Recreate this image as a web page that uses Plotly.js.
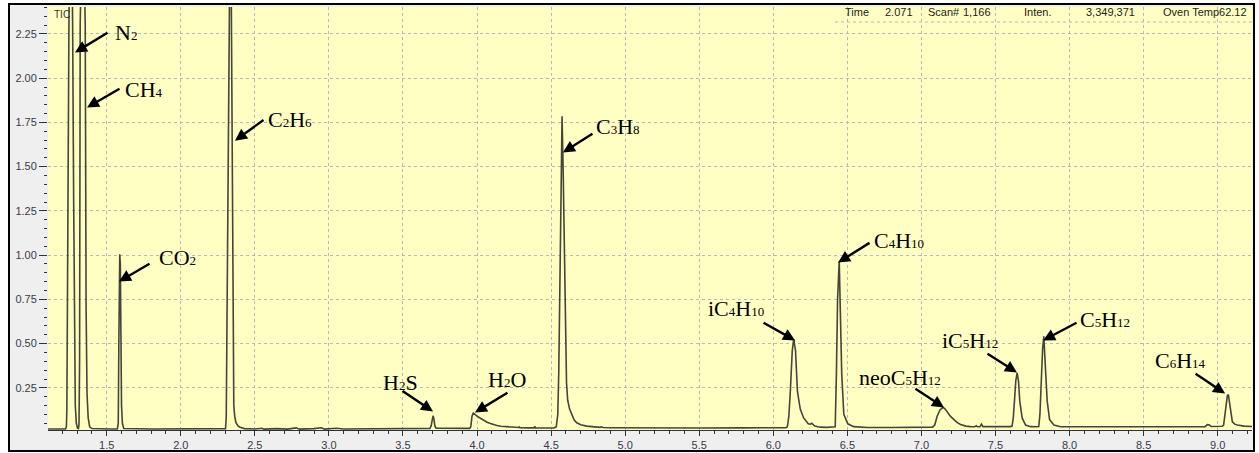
<!DOCTYPE html>
<html>
<head>
<meta charset="utf-8">
<script src="https://cdn.plot.ly/plotly-3.0.1.min.js"></script>
<style>html,body{margin:0;padding:0;background:#fff;}#chart{width:1259px;height:453px;}</style>
</head>
<body>
<div id="chart"></div>
<script>
// Retention time (min)
var times = [
1.10,1.15,1.20,
1.222,1.228,1.231,1.238,1.245,1.257,1.270,1.277,1.283,1.288,1.295,1.303,1.309,
1.313,1.317,1.321,1.338,1.355,1.361,1.367,1.375,1.385,1.40,
1.45,1.52,
1.572,1.578,1.582,1.585,1.588,1.592,1.596,1.600,1.606,1.615,
1.8,2.0,2.2,2.29,
2.302,2.307,2.311,2.316,2.322,2.328,2.334,2.340,2.346,2.350,2.354,2.358,2.364,2.372,2.385,2.40,2.43,
2.5,2.55,2.56,2.65,2.72,2.78,2.80,2.90,2.95,2.97,3.05,3.10,3.3,3.5,3.67,
3.682,3.690,3.696,3.703,3.709,3.715,3.724,3.8,3.95,
3.958,3.966,3.975,3.985,4.00,4.02,4.045,4.065,4.09,4.11,4.135,4.16,4.20,4.25,4.28,4.285,4.29,4.35,4.385,4.39,4.395,4.45,4.52,
4.535,4.545,4.552,4.558,4.565,4.574,4.582,4.590,4.597,4.604,4.612,4.625,4.640,4.655,4.673,4.70,4.74,4.78,4.83,4.84,4.85,4.90,
5.2,5.5,5.8,6.0,6.085,
6.095,6.105,6.115,6.128,6.138,6.150,6.163,6.182,6.205,6.236,6.25,6.26,6.28,6.317,6.36,6.41,
6.418,6.426,6.434,6.445,6.454,6.462,6.476,6.503,6.543,6.633,6.8,7.0,7.075,
7.09,7.106,7.125,7.146,7.16,7.173,7.195,7.218,7.24,7.264,7.30,7.331,7.36,7.37,7.38,7.395,7.405,7.415,7.5,7.6,
7.612,7.620,7.628,7.637,7.646,7.655,7.664,7.68,7.703,7.736,7.78,
7.792,7.80,7.808,7.818,7.826,7.838,7.849,7.865,7.894,7.939,8.1,8.4,8.7,8.9,
8.915,8.93,8.945,8.955,9.03,
9.040,9.054,9.065,9.072,9.083,9.099,9.115,9.133,9.178,9.232
];
// TIC intensity (x1,000,000)
var intensity = [
0.018,0.018,0.018,
0.018,0.03,0.13,1.2,2.3,3.35,2.3,1.3,0.45,0.15,0.05,0.022,0.02,
0.04,0.4,2.3,3.1,2.3,0.7,0.22,0.08,0.03,0.02,
0.018,0.018,
0.018,0.05,0.5,0.96,1.005,0.95,0.5,0.15,0.05,0.02,
0.018,0.018,0.018,0.018,
0.02,0.08,0.5,1.2,2.0,2.7,3.0,2.6,1.7,0.8,0.3,0.15,0.09,0.055,0.037,0.028,0.02,
0.018,0.022,0.017,0.02,0.017,0.024,0.017,0.02,0.025,0.017,0.022,0.018,0.018,0.019,0.02,
0.021,0.035,0.075,0.092,0.075,0.035,0.022,0.021,0.021,
0.03,0.09,0.108,0.1,0.09,0.08,0.066,0.057,0.049,0.042,0.037,0.033,0.03,0.027,0.026,0.03,0.025,0.024,0.024,0.033,0.024,0.023,0.023,
0.03,0.10,0.35,0.8,1.4,1.785,1.45,1.0,0.55,0.28,0.18,0.13,0.10,0.07,0.053,0.042,0.034,0.030,0.027,0.03,0.026,0.025,
0.023,0.023,0.024,0.024,0.025,
0.03,0.09,0.23,0.46,0.525,0.46,0.23,0.13,0.08,0.047,0.045,0.05,0.034,0.028,0.027,0.027,
0.03,0.33,0.75,0.965,0.7,0.33,0.10,0.047,0.031,0.026,0.026,0.027,0.028,
0.04,0.09,0.125,0.14,0.13,0.115,0.09,0.072,0.055,0.043,0.034,0.031,0.03,0.036,0.03,0.03,0.045,0.031,0.03,0.031,
0.034,0.08,0.175,0.29,0.335,0.29,0.175,0.08,0.04,0.031,0.03,
0.032,0.10,0.27,0.47,0.542,0.363,0.175,0.072,0.04,0.03,0.029,0.03,0.03,0.031,
0.031,0.042,0.04,0.032,0.033,
0.04,0.137,0.205,0.212,0.137,0.058,0.045,0.04,0.034,0.032
];

// Axis ticks
var xTicks = [1.5,2.0,2.5,3.0,3.5,4.0,4.5,5.0,5.5,6.0,6.5,7.0,7.5,8.0,8.5,9.0];
var xTickLabels = ['1.5','2.0','2.5','3.0','3.5','4.0','4.5','5.0','5.5','6.0','6.5','7.0','7.5','8.0','8.5','9.0'];
var yTicks = [0.25,0.50,0.75,1.00,1.25,1.50,1.75,2.00,2.25];
var yTickLabels = ['0.25','0.50','0.75','1.00','1.25','1.50','1.75','2.00','2.25'];

// Peak labels
function s(d) { return '<span style="font-size:13px">' + d + '</span>'; }
var peakNames = ['N' + s('2'), 'CH' + s('4'), 'C' + s('2') + 'H' + s('6'), 'CO' + s('2'),
  'H' + s('2') + 'S', 'H' + s('2') + 'O', 'C' + s('3') + 'H' + s('8'), 'iC' + s('4') + 'H' + s('10'),
  'C' + s('4') + 'H' + s('10'), 'neoC' + s('5') + 'H' + s('12'), 'iC' + s('5') + 'H' + s('12'),
  'C' + s('5') + 'H' + s('12'), 'C' + s('6') + 'H' + s('14')];
var peakTimes  = [1.286,1.367,2.366,1.583,3.703,3.986,4.580,6.147,6.437,7.152,7.645,7.821,9.050];
var peakLevels = [2.145,1.834,1.647,0.851,0.116,0.111,1.580,0.518,0.958,0.139,0.337,0.518,0.218];

// Label geometry (pixels relative to arrow tip)
var arrowDx = [33,33,29,31,-31,33,30,-32,32,-29,-30,34,-30];
var arrowDy = [-20,-19,-21,-18,-21,-20,-19,-18,-20,-19,-19,-18,-20];
var textDx  = [38,36,31,38,-33,32,31,-29,34,-44,-47,35,-45];
var textDy  = [20,18,21,24,29,33,26,32,22,30,32,21,33];
var textAnchor = ['left','left','left','left','center','center','left','right','left','center','center','left','center'];

var annotations = [];
for (var i = 0; i < peakNames.length; i++) {
  annotations.push({
    x: peakTimes[i], y: peakLevels[i], xref: 'x', yref: 'y',
    text: ' ', font: {size: 1}, borderpad: 0,
    showarrow: true, arrowhead: 2, arrowsize: 1.0, arrowwidth: 2.4, arrowcolor: '#000',
    ax: arrowDx[i], ay: arrowDy[i], axref: 'pixel', ayref: 'pixel', standoff: 0, startstandoff: 0
  });
  annotations.push({
    x: peakTimes[i], y: peakLevels[i], xref: 'x', yref: 'y',
    text: peakNames[i], showarrow: false,
    xanchor: textAnchor[i], yanchor: 'middle',
    xshift: textDx[i], yshift: textDy[i],
    font: {family: 'Liberation Serif, Times New Roman, serif', size: 22, color: '#000'}
  });
}

// header info
var PW = 1204, PH = 423, L = 48, T = 7;
function px(x) { return (x - L) / PW; }
function py(y) { return (T + PH - y) / PH; }
var headerTexts = ['Time','2.071','Scan#','1,166','Inten.','3,349,371','Oven Temp62.12'];
var headerX = [843,915,926,961,1022,1137,1249];
var headerAnchor = ['left','right','left','left','left','right','right'];
for (var j = 0; j < headerTexts.length; j++) {
  annotations.push({
    xref: 'paper', yref: 'paper', x: px(headerX[j]), y: py(12),
    text: headerTexts[j], showarrow: false, xanchor: headerAnchor[j], yanchor: 'middle',
    font: {family: 'Liberation Sans, Arial, sans-serif', size: 11, color: '#222'}
  });
}
annotations.push({
  xref: 'paper', yref: 'paper', x: px(52), y: py(14),
  text: 'TIC', showarrow: false, xanchor: 'left', yanchor: 'middle',
  font: {family: 'Liberation Sans, Arial, sans-serif', size: 10, color: '#333'}
});

var shapes = [
  {type: 'rect', xref: 'paper', yref: 'paper', layer: 'below',
   x0: px(9), x1: px(1254), y0: py(451), y1: py(4),
   fillcolor: '#efefef', line: {color: '#000', width: 2}},
  {type: 'rect', xref: 'paper', yref: 'paper', layer: 'below',
   x0: 0, x1: 1, y0: 0, y1: 1, fillcolor: '#ffffc4', line: {width: 0}},
  {type: 'line', xref: 'paper', yref: 'paper', layer: 'below',
   x0: px(835), x1: 1, y0: py(22), y1: py(22),
   line: {color: '#b8b8b8', width: 1, dash: '3px,3px'}}
];

var tickFont = {family: 'Liberation Sans, Arial, sans-serif', size: 11, color: '#3a3a4a'};

var trace = {
  x: times, y: intensity, type: 'scatter', mode: 'lines',
  line: {color: '#45453a', width: 1.6}, hoverinfo: 'x+y'
};

var layout = {
  width: 1259, height: 453,
  margin: {l: L, r: 7, t: T, b: 23, pad: 0},
  paper_bgcolor: '#ffffff', plot_bgcolor: '#ffffc4',
  showlegend: false,
  xaxis: {
    range: [1.1037, 9.2316], tickmode: 'array', tickvals: xTicks, ticktext: xTickLabels,
    ticks: 'outside', ticklen: 5, tickcolor: '#333', tickwidth: 1,
    showline: true, linecolor: '#333', linewidth: 1, mirror: false,
    showgrid: true, gridcolor: '#b8b8b8', gridwidth: 1, griddash: '3px,3px',
    zeroline: false, tickfont: tickFont,
    minor: {dtick: 0.1, tick0: 0, ticks: 'outside', ticklen: 3, tickcolor: '#333', showgrid: false}
  },
  yaxis: {
    range: [0.012, 2.402], tickmode: 'array', tickvals: yTicks, ticktext: yTickLabels,
    ticks: 'outside', ticklen: 8, tickcolor: '#333', tickwidth: 1,
    showline: false, showgrid: true, gridcolor: '#b8b8b8', gridwidth: 1, griddash: '3px,3px',
    zeroline: false, tickfont: tickFont,
    minor: {dtick: 0.05, tick0: 0, ticks: 'outside', ticklen: 3, tickcolor: '#333', showgrid: false}
  },
  shapes: shapes,
  annotations: annotations
};

Plotly.newPlot('chart', [trace], layout, {displayModeBar: false, staticPlot: true});
</script>
</body>
</html>
